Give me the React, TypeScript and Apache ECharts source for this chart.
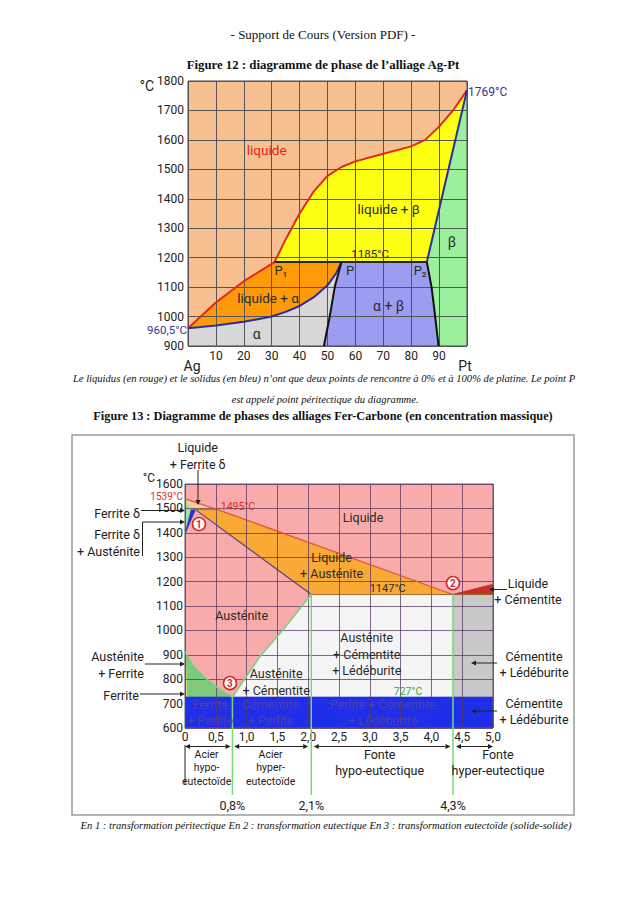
import React, { useEffect, useRef } from "react";
import * as echarts from "echarts";

const sans = "Roboto, 'Noto Sans', sans-serif";
const serif = "'Liberation Serif', 'DejaVu Serif', serif";

// ---------------- Figure 12 : Ag-Pt ----------------
const agptX = { min: 0, max: 100, step: 10 };
const agptY = { min: 900, max: 1800, step: 100 };
const agptLiquidus = [[0, 960.5], [10, 1048], [20, 1120], [31, 1185], [35, 1262], [40, 1350], [45, 1424], [50, 1478], [55, 1508], [60, 1527], [70, 1553], [80, 1578], [85, 1600], [90, 1645], [95, 1700], [100, 1769]];
const agptSolidusAlpha = [[0, 960.5], [10, 970], [20, 982], [30, 1000], [35, 1016], [40, 1036], [45, 1065], [50, 1106], [53, 1146], [55, 1185]];
const agptSolvusAlpha = [[55, 1185], [52.6, 1100], [50.8, 1000], [48.7, 900]];
const agptSolvusBeta = [[85.6, 1185], [87.3, 1100], [88.6, 1000], [89.8, 900]];
const agptSolidusBeta = [[85.6, 1185], [92, 1445], [100, 1769]];
const agptPeritectic = [[31, 1185], [85.6, 1185]];
const agptLabelPos = [[28.2, 1565], [71.9, 1365], [94.6, 1254], [65.3, 1214], [33.3, 1155], [58.1, 1155], [83.2, 1155], [28.7, 1064], [71.9, 1036], [24.6, 941]];
const agptLabelText = ["liquide", "liquide + β", "β", "1185°C", "P₁", "P", "P₂", "liquide + α", "α + β", "α"];

// ---------------- Figure 13 : Fer-Carbone ----------------
const fecX = { min: 0, max: 5, step: 0.5 };
const fecY = { min: 600, max: 1600, step: 100 };
const fecLiquidus = [[0, 1539], [0.53, 1495], [4.35, 1147]];
const fecLiquidusCementite = [[4.35, 1147], [5, 1188]];
const fecSolidus = [[0.17, 1495], [2.05, 1147]];
const fecPeritectic = [[0.1, 1495], [0.53, 1495]];
const fecDeltaLimit = [[0.1, 1495], [0, 1394]];
const fecDeltaAustLimit = [[0.17, 1495], [0, 1394]];
const fecAcm = [[2.05, 1147], [1.6, 1005], [1.22, 894], [0.77, 727]];
const fecA3 = [[0, 912], [0.135, 853], [0.35, 801], [0.57, 757], [0.77, 727]];
const fecFerriteLimit = [[0, 912], [0.025, 800], [0.03, 727]];
const fecEutectic = [[2.05, 1147], [5, 1147]];
const fecEutectoidT = 727;
const fecEutecticX = 4.35;
const fecMarkerPos = [[0.77, 727], [2.05, 1147], [4.35, 1147]];
const fecMarkerText = ["0,8%", "2,1%", "4,3%"];
const fecCirclePos = [[0.227, 1436], [4.35, 1194], [0.73, 784]];
const fecCircleText = ["1", "2", "3"];
const fecRanges = [[0, 0.74], [0.8, 2.0], [2.09, 4.31], [4.4, 5.0]];
const fecRangeLabelX = [0.35, 1.39, 3.16, 5.08];
const fecRangeLabelText = ["Acier\nhypo-\neutectoïde", "Acier\nhyper-\neutectoïde", "Fonte\nhypo-eutectique", "Fonte\nhyper-eutectique"];
const fecLabelPos = [[2.89, 1461], [0.86, 1506], [2.38, 1267], [3.29, 1170], [0.92, 1063], [2.95, 903], [1.48, 789], [3.62, 748], [0.41, 664], [1.39, 664], [3.21, 664]];
const fecLabelText = ["Liquide", "1495°C", "Liquide\n+ Austénite", "1147°C", "Austénite", "Austénite\n+ Cémentite\n+ Lédéburite", "Austénite\n+ Cémentite", "727°C", "Ferrite\n+ Perlite", "Cémentite\n+ Perlite", "Perlite + Cémentite\n+ Lédéburite"];

// ---------------- styles ----------------
const agptLabelStyle = [
  { color: "#e0261c", size: 13.5 }, { color: "#2a2a2a", size: 13.5 }, { color: "#2a2a2a", size: 14 },
  { color: "#2a2a2a", size: 11.5 }, { color: "#2a2a2a", size: 13 }, { color: "#2a2a2a", size: 13 },
  { color: "#2a2a2a", size: 13 }, { color: "#2a2a2a", size: 13.5 }, { color: "#2a2a2a", size: 14 },
  { color: "#2a2a2a", size: 14 },
];
const bandText = "#4b3fae";
const fecLabelStyle = [
  { color: "#2a2a2a", size: 12.5 }, { color: "#e0302a", size: 10.5 }, { color: "#2a2a2a", size: 12.5 },
  { color: "#2a2a2a", size: 11 }, { color: "#2a2a2a", size: 12.5 }, { color: "#2a2a2a", size: 12.5 },
  { color: "#2a2a2a", size: 12.5 }, { color: "#3aa83a", size: 10.5 }, { color: bandText, size: 12.5 },
  { color: bandText, size: 12.5 }, { color: bandText, size: 12.5 },
];

const rev = (a: number[][]) => [...a].reverse();

function polySeries(grid: number, regions: { pts: number[][]; color: string }[]) {
  return {
    type: "custom", xAxisIndex: grid, yAxisIndex: grid, z: 2, silent: true, clip: true,
    data: regions.map((r, i) => [r.pts[0][0], r.pts[0][1], i]),
    renderItem: (_p: any, api: any) => {
      const r = regions[api.value(2)];
      return {
        type: "polygon",
        shape: { points: r.pts.map((p) => api.coord(p)) },
        style: { fill: r.color, stroke: r.color, lineWidth: 0.6 },
      };
    },
  };
}

function lineSeries(grid: number, pts: number[][], color: string, width: number) {
  return {
    type: "line", xAxisIndex: grid, yAxisIndex: grid, data: pts, showSymbol: false, symbol: "none",
    silent: true, z: 5, lineStyle: { color, width }, clip: true,
  };
}

function textSeries(grid: number, pos: number[][], texts: string[], styles: any[]) {
  return {
    type: "custom", xAxisIndex: grid, yAxisIndex: grid, z: 7, silent: true, clip: false,
    data: pos.map((p, i) => [p[0], p[1], i]),
    renderItem: (_p: any, api: any) => {
      const i = api.value(2);
      const c = api.coord([api.value(0), api.value(1)]);
      const s = styles[i];
      return {
        type: "text", x: c[0], y: c[1], z2: 10,
        style: {
          text: texts[i], fill: s.color, fontSize: s.size, fontFamily: sans,
          align: "center", verticalAlign: "middle", lineHeight: s.size * 1.3,
        },
      };
    },
  };
}

function buildOption() {
  const agptRegions = [
    { pts: [...agptLiquidus, [100, 1800], [0, 1800]], color: "#f8bf90" },
    { pts: [...agptLiquidus.slice(3), ...rev(agptSolidusBeta).slice(1)], color: "#ffff14" },
    { pts: [...agptLiquidus.slice(0, 4), ...rev(agptSolidusAlpha)], color: "#ff9a08" },
    { pts: [...agptSolidusAlpha, ...agptSolvusAlpha.slice(1), [0, 900]], color: "#d8d8d8" },
    { pts: [...rev(agptSolvusAlpha), ...agptSolvusBeta], color: "#9c9cf0" },
    { pts: [...agptSolidusBeta, [100, 900], ...rev(agptSolvusBeta)], color: "#9cef9c" },
  ];
  const fecRegions = [
    { pts: [[0, 600], [5, 600], [5, 1600], [0, 1600]], color: "#f9abab" },
    { pts: [[0, 1539], fecLiquidus[1], fecPeritectic[0]], color: "#fbcb9c" },
    { pts: [[0, 1539], ...fecDeltaLimit], color: "#9ee69e" },
    { pts: [fecDeltaLimit[0], fecDeltaAustLimit[0], fecDeltaAustLimit[1]], color: "#2434c8" },
    { pts: [fecSolidus[0], fecLiquidus[1], fecLiquidus[2], fecSolidus[1]], color: "#f9aa36" },
    { pts: [...fecAcm, [fecEutecticX, fecEutectoidT], [fecEutecticX, 1147]], color: "#f5f5f5" },
    { pts: [[fecEutecticX, 1147], [5, 1147], [5, fecEutectoidT], [fecEutecticX, fecEutectoidT]], color: "#c9c9c9" },
    { pts: [...fecLiquidusCementite, [5, 1147]], color: "#c4302a" },
    { pts: [...fecA3, ...rev(fecFerriteLimit)], color: "#7ec97e" },
    { pts: [...fecFerriteLimit, [0, fecEutectoidT]], color: "#e6de70" },
    { pts: [[0, 600], [5, 600], [5, fecEutectoidT], [0, fecEutectoidT]], color: "#1f2ee8" },
  ];

  const axisBase = (grid: number, r: any, fmt: (v: number) => string, margin: number, gridColor: string) => ({
    gridIndex: grid, type: "value", min: r.min, max: r.max, interval: r.step, z: 3,
    axisLine: { show: false }, axisTick: { show: false },
    splitLine: { show: true, lineStyle: { color: gridColor, width: 1 } },
    axisLabel: { formatter: fmt, margin, color: "#222", fontSize: 12, fontFamily: sans, showMinLabel: true, showMaxLabel: true },
  });
  const agGrid = "#555";
  const feGrid = "rgba(85,55,95,0.75)";
  const fmtComma = (v: number) => (v === 0 ? "0" : v.toFixed(1).replace(".", ","));

  const txt = (x: number, y: number, text: string, o: any = {}) => ({
    type: "text", x, y, z: 10, silent: true,
    style: {
      text, fill: o.fill || "#222", fontSize: o.size || 12.5, fontFamily: o.family || sans,
      fontWeight: o.weight || "normal", fontStyle: o.style || "normal",
      align: o.align || "center", verticalAlign: "middle", lineHeight: o.lh || (o.size || 12.5) * 1.3,
    },
  });
  const arrow = (x1: number, y1: number, x2: number, y2: number) => {
    const dx = x2 - x1, dy = y2 - y1, L = Math.hypot(dx, dy), ux = dx / L, uy = dy / L;
    const hl = 5, hw = 2.6, bx = x2 - ux * hl, by = y2 - uy * hl;
    return [
      { type: "line", z: 10, silent: true, shape: { x1, y1, x2: bx, y2: by }, style: { stroke: "#222", lineWidth: 1 } },
      { type: "polygon", z: 10, silent: true, shape: { points: [[x2, y2], [bx - uy * hw, by + ux * hw], [bx + uy * hw, by - ux * hw]] }, style: { fill: "#222" } },
    ];
  };
  const blue = "#34348f";

  const graphic: any[] = [
    txt(323, 34, "- Support de Cours (Version PDF) -", { family: serif, size: 13, fill: "#111" }),
    txt(323, 65, "Figure 12 : diagramme de phase de l’alliage Ag-Pt", { family: serif, size: 12.8, weight: "bold", fill: "#111" }),
    txt(147, 86, "°C", { size: 14 }),
    txt(187, 330, "960,5°C", { size: 11.5, fill: blue, align: "right" }),
    txt(468, 92, "1769°C", { size: 12, fill: blue, align: "left" }),
    txt(192, 366, "Ag", { size: 14 }),
    txt(465, 366, "Pt", { size: 14 }),
    txt(324, 378, "Le liquidus (en rouge) et le solidus (en bleu) n’ont que deux points de rencontre à 0% et à 100% de platine. Le point P", { family: serif, size: 10.6, style: "italic", fill: "#111" }),
    txt(325, 399, "est appelé point péritectique du diagramme.", { family: serif, size: 10.6, style: "italic", fill: "#111" }),
    txt(323, 416, "Figure 13 : Diagramme de phases des alliages Fer-Carbone (en concentration massique)", { family: serif, size: 12.3, weight: "bold", fill: "#111" }),
    { type: "rect", z: 1, silent: true, shape: { x: 72, y: 435, width: 502, height: 380 }, style: { fill: "none", stroke: "#9a9a9a", lineWidth: 1.5 } },
    txt(197.7, 455.5, "Liquide\n+ Ferrite δ", { size: 12.5, lh: 17 }),
    ...arrow(198, 470, 198, 505),
    txt(149, 478, "°C", { size: 12 }),
    txt(183, 496.5, "1539°C", { size: 10, fill: "#e0302a", align: "right" }),
    txt(140, 513, "Ferrite δ", { size: 12.5, align: "right" }),
    ...arrow(141, 510.5, 185, 510.5),
    txt(140, 542.5, "Ferrite δ\n+ Austénite", { size: 12.5, align: "right", lh: 17 }),
    { type: "line", z: 10, silent: true, shape: { x1: 142.5, y1: 522, x2: 142.5, y2: 556 }, style: { stroke: "#222", lineWidth: 1 } },
    ...arrow(142.5, 522, 185, 522),
    txt(144, 665, "Austénite\n+ Ferrite", { size: 12.5, align: "right", lh: 16.5 }),
    ...arrow(145, 664, 185, 664),
    txt(139, 695, "Ferrite", { size: 12.5, align: "right" }),
    ...arrow(140, 694, 185, 694),
    txt(528, 591, "Liquide\n+ Cémentite", { size: 12.5, lh: 16 }),
    ...arrow(507, 589.5, 489, 589.5),
    txt(534, 664, "Cémentite\n+ Lédéburite", { size: 12.5, lh: 16 }),
    ...arrow(497, 663, 471, 663),
    txt(534, 711, "Cémentite\n+ Lédéburite", { size: 12.5, lh: 16 }),
    ...arrow(497, 711, 471, 711),
    { type: "line", z: 10, silent: true, shape: { x1: 185, y1: 745, x2: 185, y2: 785 }, style: { stroke: "#222", lineWidth: 1 } },
    txt(326, 825, "En 1 : transformation péritectique En 2 : transformation eutectique En 3 : transformation eutectoïde (solide-solide)", { family: serif, size: 10.6, style: "italic", fill: "#111" }),
  ];

  const series: any[] = [
    polySeries(0, agptRegions),
    lineSeries(0, agptLiquidus, "#e02a1c", 2),
    lineSeries(0, agptSolidusAlpha, "#2e2e9a", 2),
    lineSeries(0, agptSolidusBeta, "#2e2e9a", 2),
    lineSeries(0, agptSolvusAlpha, "#111", 2),
    lineSeries(0, agptSolvusBeta, "#111", 2),
    lineSeries(0, agptPeritectic, "#222", 2),
    textSeries(0, agptLabelPos, agptLabelText, agptLabelStyle),

    polySeries(1, fecRegions),
    lineSeries(1, fecLiquidus, "#e0553a", 1.2),
    lineSeries(1, fecLiquidusCementite, "#c83030", 1.2),
    lineSeries(1, fecSolidus, "#5a3f90", 1.2),
    lineSeries(1, fecPeritectic, "#c07020", 1),
    lineSeries(1, fecEutectic, "#9a6a2a", 1),
    lineSeries(1, fecAcm, "#7ccf7c", 1.5),
    lineSeries(1, fecA3, "#7ccf7c", 1.5),
    {
      type: "custom", xAxisIndex: 1, yAxisIndex: 1, z: 6, silent: true, clip: false,
      data: fecMarkerPos.map((p, i) => [p[0], p[1], i]),
      renderItem: (_p: any, api: any) => {
        const top = api.coord([api.value(0), api.value(1)]);
        const bot = api.coord([api.value(0), fecY.min]);
        return {
          type: "group", children: [
            { type: "line", shape: { x1: top[0], y1: top[1], x2: bot[0], y2: bot[1] + 67 }, style: { stroke: "#78d878", lineWidth: 1.5 } },
            { type: "text", x: bot[0], y: bot[1] + 77, style: { text: fecMarkerText[api.value(2)], fill: "#222", fontSize: 12.5, fontFamily: sans, align: "center", verticalAlign: "middle" } },
          ],
        };
      },
    },
    {
      type: "custom", xAxisIndex: 1, yAxisIndex: 1, z: 6, silent: true, clip: false,
      data: fecRanges.map((r, i) => [r[0], fecY.min, r[1], i]),
      renderItem: (_p: any, api: any) => {
        const a = api.coord([api.value(0), fecY.min]);
        const b = api.coord([api.value(2), fecY.min]);
        const y = a[1] + 18.5, hl = 5, hw = 2.5;
        return {
          type: "group", children: [
            { type: "line", shape: { x1: a[0] + hl, y1: y, x2: b[0] - hl, y2: y }, style: { stroke: "#222", lineWidth: 1 } },
            { type: "polygon", shape: { points: [[a[0], y], [a[0] + hl, y - hw], [a[0] + hl, y + hw]] }, style: { fill: "#222" } },
            { type: "polygon", shape: { points: [[b[0], y], [b[0] - hl, y - hw], [b[0] - hl, y + hw]] }, style: { fill: "#222" } },
          ],
        };
      },
    },
    {
      type: "custom", xAxisIndex: 1, yAxisIndex: 1, z: 7, silent: true, clip: false,
      data: fecRangeLabelX.map((x, i) => [x, fecY.min, i]),
      renderItem: (_p: any, api: any) => {
        const i = api.value(2);
        const c = api.coord([api.value(0), fecY.min]);
        const small = i < 2;
        return {
          type: "text", x: c[0], y: c[1] + (small ? 19.5 : 18.3),
          style: {
            text: fecRangeLabelText[i], fill: "#222", fontSize: small ? 10.5 : 12.5, fontFamily: sans,
            align: "center", verticalAlign: "top", lineHeight: small ? 13.5 : 16,
          },
        };
      },
    },
    textSeries(1, fecLabelPos, fecLabelText, fecLabelStyle),
    {
      type: "custom", xAxisIndex: 1, yAxisIndex: 1, z: 8, silent: true, clip: false,
      data: fecCirclePos.map((p, i) => [p[0], p[1], i]),
      renderItem: (_p: any, api: any) => {
        const c = api.coord([api.value(0), api.value(1)]);
        return {
          type: "group", children: [
            { type: "circle", shape: { cx: c[0], cy: c[1], r: 6.5 }, style: { fill: "#fff", stroke: "#d42a2a", lineWidth: 1.6 } },
            { type: "text", x: c[0], y: c[1] + 0.5, style: { text: fecCircleText[api.value(2)], fill: "#d42a2a", fontSize: 10, fontWeight: "bold", fontFamily: sans, align: "center", verticalAlign: "middle" } },
          ],
        };
      },
    },
  ];

  return {
    animation: false,
    backgroundColor: "#ffffff",
    grid: [
      { left: 188, top: 81, width: 279, height: 265, show: true, borderColor: "#444", borderWidth: 1, backgroundColor: "transparent", z: 3 },
      { left: 185, top: 484, width: 308, height: 244, show: true, borderColor: "#6a5a6a", borderWidth: 1, backgroundColor: "transparent", z: 3 },
    ],
    xAxis: [
      axisBase(0, agptX, (v: number) => (v === agptX.min || v === agptX.max ? "" : String(v)), 4, agGrid),
      axisBase(1, fecX, fmtComma, 2.5, feGrid),
    ],
    yAxis: [
      axisBase(0, agptY, (v: number) => String(v), 4, agGrid),
      axisBase(1, fecY, (v: number) => String(v), 2, feGrid),
    ],
    series,
    graphic,
  };
}

export default function App() {
  const ref = useRef<HTMLDivElement>(null);
  useEffect(() => {
    const chart = echarts.init(ref.current!, null, { renderer: "svg" });
    chart.setOption(buildOption() as any);
    return () => chart.dispose();
  }, []);
  return (
    <div
      ref={ref}
      style={{ position: "absolute", left: 0, top: 0, width: 638, height: 903, background: "#fff" }}
    />
  );
}
